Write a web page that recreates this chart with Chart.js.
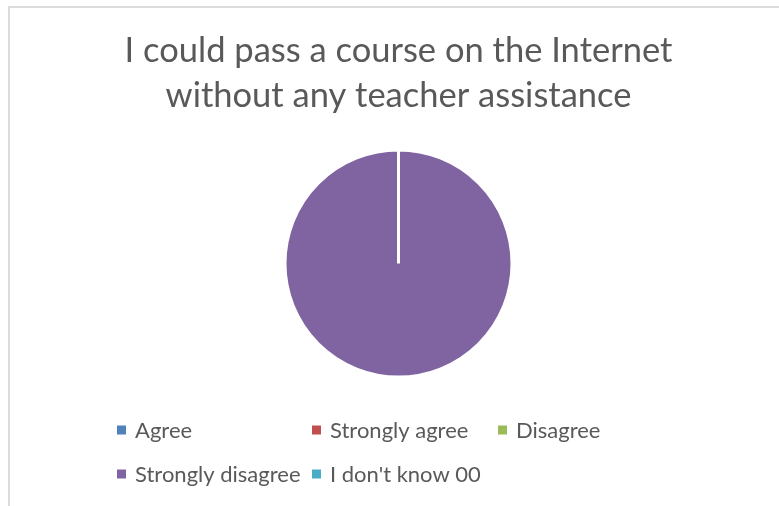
<!DOCTYPE html>
<html>
<head>
<meta charset="utf-8">
<script src="https://cdn.jsdelivr.net/npm/chart.js@4"></script>
<style>
    body { margin: 0; background: #fff; overflow: hidden; }
    #marco {
        position: absolute; left: 8px; top: 6px; width: 820px; height: 540px;
        border-top: 2px solid #dcdcdc; border-left: 2px solid #dcdcdc;
    }
    #grafico { position: absolute; left: 0; top: 0; }
</style>
</head>
<body>
<div id="marco"></div>
<canvas id="grafico" width="779" height="506"></canvas>
<script>
const titulo = ["I could pass a course on the Internet", "without any teacher assistance"];
const etiquetas = ["Agree", "Strongly agree", "Disagree", "Strongly disagree", "I don't know 00"];
const valores = [0, 0, 0, 100, 0];
const colores = ["#4F81BD", "#C0504D", "#9BBB59", "#8064A2", "#4BACC6"];

const colorTexto = "#595959";
const fuente = "Lato, 'Open Sans', sans-serif";

// leyenda en grilla de columnas fijas, debajo de la torta
const leyendaGrilla = {
    id: "leyendaGrilla",
    afterDraw(chart, args, opts) {
        const ctx = chart.ctx;
        const ds = chart.data.datasets[0];
        ctx.save();
        ctx.font = `${opts.size}px ${fuente}`;
        ctx.textBaseline = "middle";
        chart.data.labels.forEach((label, i) => {
            const fila = Math.floor(i / opts.columnas.length);
            const col = i % opts.columnas.length;
            const x = opts.columnas[col];
            const y = opts.filas[fila];
            ctx.fillStyle = ds.backgroundColor[i];
            ctx.fillRect(x, y - 4.5, 9, 9);
            ctx.fillStyle = colorTexto;
            ctx.fillText(label, x + 18, y + 1);
        });
        ctx.restore();
    }
};

new Chart(document.getElementById("grafico"), {
    type: "pie",
    data: {
        labels: etiquetas,
        datasets: [{
            data: valores,
            backgroundColor: colores,
            borderColor: "#ffffff",
            borderWidth: 3
        }]
    },
    options: {
        responsive: false,
        animation: false,
        radius: 113.5,
        layout: { padding: { left: 18, right: 0, top: 0, bottom: 130.5 } },
        plugins: {
            legend: { display: false },
            tooltip: { enabled: false },
            title: {
                display: true,
                text: titulo,
                color: colorTexto,
                font: { family: fuente, size: 34.5, weight: "normal", lineHeight: 45 / 34.5 },
                padding: { top: 28.2, bottom: 33.3 }
            },
            leyendaGrilla: {
                size: 22,
                columnas: [117, 312, 498],
                filas: [430, 474]
            }
        }
    },
    plugins: [leyendaGrilla]
});
</script>
</body>
</html>
